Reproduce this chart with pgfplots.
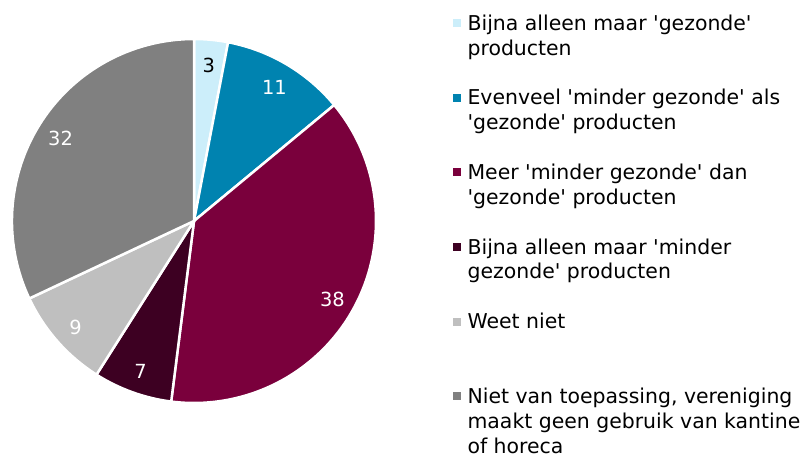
\documentclass[border=0pt]{standalone}
\usepackage{fontspec}
\setmainfont{DejaVu Sans}
\usepackage{pgfplots}
\usepackage{pgfplotstable}
\pgfplotsset{compat=1.18}

\definecolor{c1}{RGB}{204,238,250}
\definecolor{c2}{RGB}{0,131,176}
\definecolor{c3}{RGB}{122,0,60}
\definecolor{c4}{RGB}{61,0,34}
\definecolor{c5}{RGB}{191,191,191}
\definecolor{c6}{RGB}{128,128,128}

% share (%), slice colour, label colour
\pgfplotstableread{
val col lab
3  c1 black
11 c2 white
38 c3 white
7  c4 white
9  c5 white
32 c6 white
}\piedata

\newcommand\q{\textquotesingle}
\pgfplotsset{
  sq/.style={legend image code/.code={\fill[#1] (0bp,4bp) rectangle (7bp,11bp);}},
}
\tikzset{pielabel/.style={font=\fontsize{19.5}{22}\selectfont}}
% continuation line and blank line of the legend
\newcommand\more[1]{\addlegendimage{empty legend}\addlegendentry{#1}}
\newcommand\gap{\addlegendimage{empty legend}\addlegendentry{\mbox{}}}

\begin{document}
\begin{tikzpicture}
\useasboundingbox (0,0) rectangle (801bp,455bp);
\begin{axis}[
  x=1bp, y=1bp,
  xmin=0, xmax=801, ymin=0, ymax=455,
  hide axis,
  legend style={draw=none, fill=none, at={(0.56554,0.97582)}, anchor=north west,
    inner sep=0pt, row sep=2.4bp, column sep=5bp,
    cells={inner sep=0pt, anchor=base west, text height=17bp, text depth=8.1bp,
      font=\fontsize{20.5}{25.5}\selectfont}},
]
  \def\cum{0}
  \pgfplotsforeachungrouped \i in {0,...,5}{
    \pgfplotstablegetelem{\i}{val}\of\piedata \let\v\pgfplotsretval
    \pgfplotstablegetelem{\i}{col}\of\piedata \let\c\pgfplotsretval
    \pgfplotstablegetelem{\i}{lab}\of\piedata \let\lc\pgfplotsretval
    \pgfmathsetmacro\a{90-3.6*\cum}
    \pgfmathsetmacro\b{90-3.6*(\cum+\v)}
    \pgfmathsetmacro\m{(\a+\b)/2}
    \edef\temp{%
      \noexpand\fill[\c, draw=white, line width=2.5bp] (axis cs:194,234) -- ++(\a:182bp)
        arc[start angle=\a, end angle=\b, radius=182bp] -- cycle;
      \noexpand\path (axis cs:194,232) ++(\m:158bp) node[pielabel, text=\lc] {\v};
    }\temp
    \pgfmathsetmacro\cum{\cum+\v}
  }

  \addlegendimage{sq=c1}
  \addlegendentry{Bijna alleen maar \q gezonde\q}
  \more{producten}
  \gap
  \addlegendimage{sq=c2}
  \addlegendentry{Evenveel \q minder gezonde\q{} als}
  \more{\q gezonde\q{} producten}
  \gap
  \addlegendimage{sq=c3}
  \addlegendentry{Meer \q minder gezonde\q{} dan}
  \more{\q gezonde\q{} producten}
  \gap
  \addlegendimage{sq=c4}
  \addlegendentry{Bijna alleen maar \q minder}
  \more{gezonde\q{} producten}
  \gap
  \addlegendimage{sq=c5}
  \addlegendentry{Weet niet}
  \gap
  \gap
  \addlegendimage{sq=c6}
  \addlegendentry{Niet van toepassing, vereniging}
  \more{maakt geen gebruik van kantine}
  \more{of horeca}
\end{axis}
\end{tikzpicture}
\end{document}
